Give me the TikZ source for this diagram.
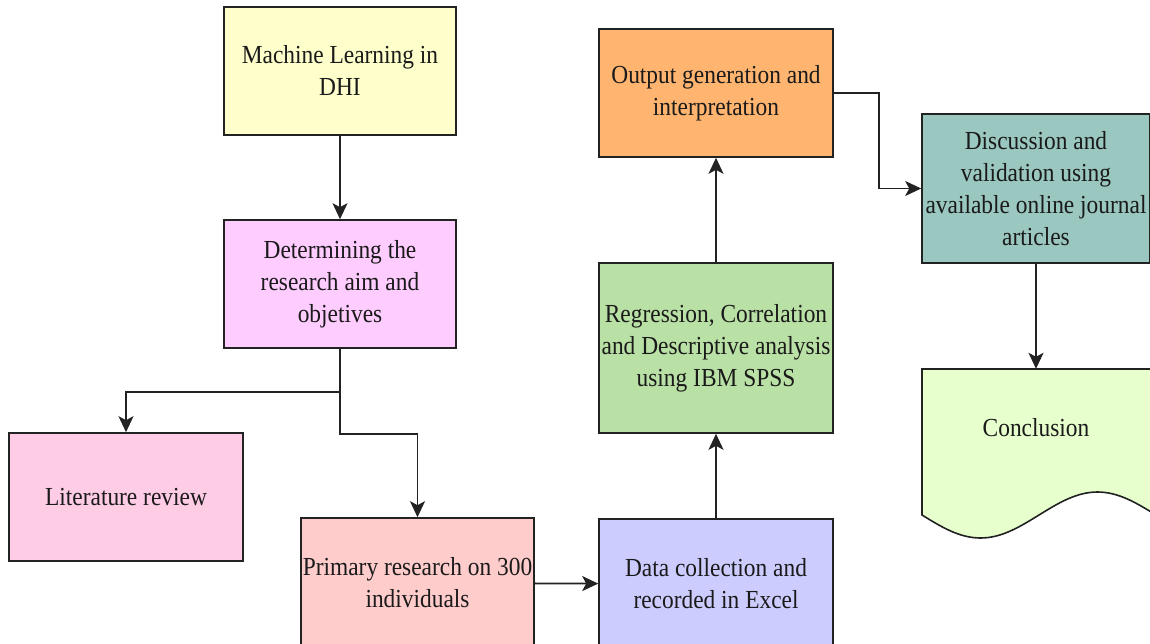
\documentclass[tikz,border=0pt]{standalone}
\usepackage{fontspec}
\setmainfont[FakeStretch=0.9]{Liberation Serif}
\usetikzlibrary{arrows.meta}
\definecolor{cYellow}{HTML}{FFFFCC}
\definecolor{cMagenta}{HTML}{FFCCFF}
\definecolor{cPink}{HTML}{FFCCE6}
\definecolor{cSalmon}{HTML}{FFCCCC}
\definecolor{cLavender}{HTML}{CCCCFF}
\definecolor{cGreen}{HTML}{B9E0A5}
\definecolor{cOrange}{HTML}{FFB570}
\definecolor{cTeal}{HTML}{9AC7BF}
\definecolor{cLight}{HTML}{E6FFCC}
\definecolor{cLine}{HTML}{222222}
\definecolor{cText}{HTML}{1A1A1A}
\tikzset{
  box/.style={draw=cLine, line width=1.6pt, rectangle, inner sep=0pt, align=center,
              text=cText, font=\fontsize{26}{32}\selectfont},
  lbl/.style={rectangle, inner sep=0pt, align=center, text=cText, font=\fontsize{26}{32}\selectfont},
  conn/.style={draw=cLine, line width=1.8pt, -{Stealth[length=16pt,width=15pt,inset=4pt]}},
  docshape/.style={draw=cLine, line width=1.6pt, fill=cLight},
}
\begin{document}
\begin{tikzpicture}[x=1pt,y=-1pt]
\useasboundingbox (0,0) rectangle (1150,644);
\fill[white] (0,0) rectangle (1150,644);
\clip (0,0) rectangle (1150,644);

\node[box, fill=cYellow, minimum width=232pt, minimum height=128pt] (ml) at (340,71) {Machine Learning in\\DHI};
\node[box, fill=cMagenta, minimum width=232pt, minimum height=128pt] (det) at (340,284) {Determining the\\research aim and\\objetives};
\node[box, fill=cPink, minimum width=234pt, minimum height=128pt] (lit) at (126,497) {Literature review};
\node[box, fill=cSalmon, minimum width=233pt, minimum height=130pt] (prim) at (417.5,583) {Primary research on 300\\individuals};
\node[box, fill=cLavender, minimum width=234pt, minimum height=130pt] (data) at (716,584) {Data collection and\\recorded in Excel};
\node[box, fill=cGreen, minimum width=234pt, minimum height=170pt] (green) at (716,348) {Regression, Correlation\\and Descriptive analysis\\using IBM SPSS};
\node[box, fill=cOrange, minimum width=234pt, minimum height=128pt] (out) at (716,93) {Output generation and\\interpretation};
\node[box, fill=cTeal, minimum width=228pt, minimum height=149pt] (disc) at (1036,188.5) {Discussion and\\validation using\\available online journal\\articles};

\path[docshape] (922,369) -- (922,515) sin (980.5,538) cos (1039,515) sin (1097.5,492) cos (1156,515) -- (1156,369) -- cycle;
\node[lbl, minimum width=228pt, minimum height=118pt] (concl) at (1036,428) {Conclusion};

\draw[conn] (ml) -- (det);
\draw[conn] (det.south) -- ++(0,43) -| (lit.north);
\draw[conn] (det.south) -- ++(0,85) -| (prim.north);
\draw[conn] (prim) -- (data);
\draw[conn] (data) -- (green);
\draw[conn] (green) -- (out);
\draw[conn] (out.east) -- ++(45,0) |- (disc.west);
\draw[conn] (disc.south) -- (disc.south |- concl.north);
\end{tikzpicture}
\end{document}
